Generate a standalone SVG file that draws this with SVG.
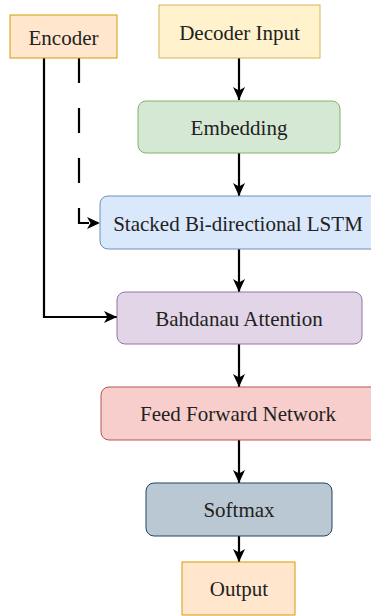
<svg xmlns="http://www.w3.org/2000/svg" width="371" height="616" viewBox="0 0 371 616">
<style>
text{font-family:"Liberation Serif","Times New Roman",serif;fill:#222;text-anchor:middle;font-size:21px}
.c{fill:none;stroke:#000;stroke-width:2.2}
</style>
<defs>
<marker id="ah" markerUnits="userSpaceOnUse" markerWidth="13" markerHeight="12" viewBox="0 0 13 12" refX="13" refY="6" orient="auto">
<path d="M0,0 L13,6 L0,12 L3.5,6 Z" fill="#000"/>
</marker>
</defs>
<rect width="371" height="616" fill="#fff"/>
<g id="connectors">
<path class="c" d="M239,58 V100" marker-end="url(#ah)"/>
<path class="c" d="M239,153 V196" marker-end="url(#ah)"/>
<path class="c" d="M239,249 V292" marker-end="url(#ah)"/>
<path class="c" d="M239,344 V387" marker-end="url(#ah)"/>
<path class="c" d="M239,440 V483" marker-end="url(#ah)"/>
<path class="c" d="M239,536 V562" marker-end="url(#ah)"/>
<path class="c" d="M44,58 V317 H117" marker-end="url(#ah)"/>
<path class="c" d="M79,58 V223 H100" stroke-width="2.8" stroke-dasharray="25 25" marker-end="url(#ah)"/>
</g>
<g id="encoder"><rect x="10" y="15" width="107" height="43" fill="#ffe6cc" stroke="#d79b00"/><text x="63.5" y="45" font-size="21.6">Encoder</text></g>
<g id="decoder-input"><rect x="159" y="5" width="161" height="53" fill="#fff2cc" stroke="#d6b656"/><text x="239.5" y="39.5" font-size="25.5">Decoder Input</text></g>
<g id="embedding"><rect x="138" y="101" width="202" height="52" rx="8" fill="#d5e8d4" stroke="#82b366"/><text x="239" y="135">Embedding</text></g>
<g id="lstm"><rect x="100" y="196" width="280" height="53" rx="8" fill="#dae8fc" stroke="#6c8ebf"/><text x="238" y="231">Stacked Bi-directional LSTM</text></g>
<g id="attention"><rect x="117" y="292" width="245" height="52" rx="8" fill="#e1d5e7" stroke="#9673a6"/><text x="239" y="326">Bahdanau Attention</text></g>
<g id="ffn"><rect x="101" y="387" width="280" height="53" rx="8" fill="#f8cecc" stroke="#b85450"/><text x="238" y="421">Feed Forward Network</text></g>
<g id="softmax"><rect x="146" y="483" width="186" height="53" rx="8" fill="#bac8d3" stroke="#23445d"/><text x="239" y="517">Softmax</text></g>
<g id="output"><rect x="182" y="562" width="113" height="53" fill="#ffe6cc" stroke="#d79b00"/><text x="239" y="595.5" font-size="25.5">Output</text></g>
</svg>
